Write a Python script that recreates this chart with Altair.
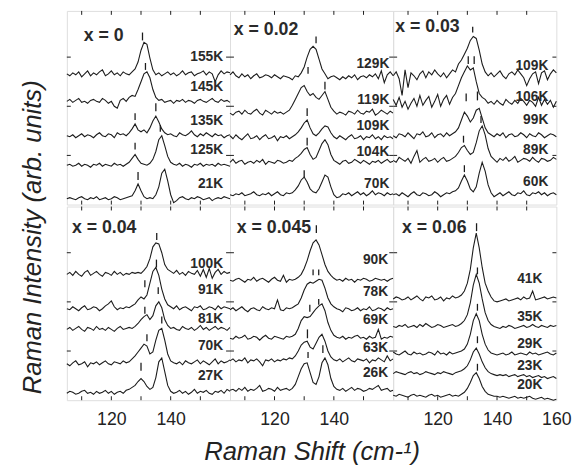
import altair as alt
import pandas as pd

FONT = "Liberation Sans"
INK = "#1c1c1c"
SHIFT0 = 105          # first sampled Raman shift (cm-1); spectra sampled every 1 cm-1
X_DOMAIN = [105, 160]
Y_DOMAIN = [0, 197]
W, H = 166, 197

x_ticks = [110, 120, 130, 140, 150]
y_ticks = [50, 100, 150]

# ---------------- panel x = 0 ----------------
x0_temps = ["155K", "145K", "135K", "125K", "21K"]
x0_offsets = [133, 105, 70, 40, 6]
x0_spectra = [
    [0,-2,1,-1,2,-3,0,3,-2,1,-1,2,4,-2,0,3,-1,1,-2,2,0,-1,2,5,12,24,32,30,16,4,-1,1,-2,0,2,-1,1,-2,0,3,-1,1,2,-2,0,1,3,-1,2,0,-8,-1,3,0,2,1],
    [0,2,-1,1,3,-1,0,-2,1,2,0,-1,3,1,-2,0,-5,-7,1,3,0,4,6,5,12,20,28,30,24,12,4,1,2,-1,0,1,-2,1,0,2,-1,1,0,-2,1,2,0,-1,1,3,0,-1,2,0,1,-1],
    [0,-1,1,-2,0,2,-1,1,0,-2,1,3,0,-1,2,1,-2,3,1,2,0,3,7,12,6,4,6,3,8,15,20,14,7,3,1,2,0,-1,3,1,0,2,5,1,-1,2,0,3,1,-1,2,0,1,-2,0,1],
    [0,1,-1,0,2,-1,1,0,-2,1,0,2,-1,1,0,-1,2,0,1,-1,1,3,7,11,6,2,1,0,2,6,14,26,30,20,9,3,1,0,2,-1,1,0,-2,1,0,2,-1,1,0,1,-1,2,0,1,0,-1],
    [0,1,0,-1,1,2,0,-1,1,0,2,-1,0,1,-1,0,2,1,-1,0,1,2,3,8,15,8,2,0,1,0,4,12,26,30,18,4,-4,-2,1,2,0,-1,1,0,2,1,-1,0,1,-2,0,1,0,2,1,0],
]
x0_label_x = 157.7
x0_label_y = [150, 120, 85, 55, 21]
x0_mark_shift = [130.5, 131.5, 128, 135, 128, 136.5, 129]
x0_mark_low = [167, 137, 86, 95, 56, 74, 25]
x0_mark_high = [175, 144, 93, 103, 63, 81, 33]

# ---------------- panel x = 0.02 ----------------
x02_temps = ["129K", "119K", "109K", "104K", "70K"]
x02_offsets = [130, 93, 68, 43, 10]
x02_spectra = [
    [2,5,1,-1,3,0,2,-2,1,3,-1,0,2,1,-1,2,0,-2,1,0,-1,-3,1,0,4,10,20,28,31,28,18,8,3,-2,0,1,-1,-3,0,-2,1,-1,2,-3,0,1,-1,2,0,3,-2,6,-6,2,5,1],
    [0,-2,1,2,-1,3,0,-1,2,4,0,-2,3,1,-1,2,0,1,-1,1,3,8,14,20,26,28,22,18,20,16,14,18,22,14,6,2,-1,1,0,-2,2,1,-1,3,0,-1,2,1,4,-2,0,3,1,-1,2,0],
    [2,-1,3,0,-2,1,4,-1,0,2,-2,1,3,-1,0,2,-3,1,0,2,-1,1,3,6,10,15,18,10,4,2,5,9,12,11,5,1,-1,2,0,-2,1,3,-1,0,2,-2,1,0,3,-1,1,-2,2,0,1,-1],
    [0,3,-1,1,2,-2,0,1,-1,2,0,3,-2,1,0,-1,2,1,-1,0,2,1,4,6,9,13,15,8,3,5,12,19,23,18,8,2,0,-2,1,2,-1,0,3,1,-1,2,0,-2,1,0,2,-1,1,3,0,1],
    [0,-1,1,0,2,-1,0,1,3,0,-1,1,0,2,-1,1,3,0,-1,2,1,2,5,9,15,18,13,6,3,2,6,13,20,18,8,0,-3,-2,1,0,2,-1,1,3,0,2,-1,1,4,0,2,1,-1,2,0,1],
]
x02_label_x = 158.7
x02_label_y = [143, 106, 80, 53, 21]
x02_mark_shift = [134, 131.3, 137, 131, 131, 130]
x02_mark_low = [164, 133, 117, 90, 60, 28]
x02_mark_high = [171, 140, 125, 98, 68, 35]

# ---------------- panel x = 0.03 ----------------
x03_temps = ["109K", "106K", "99K", "89K", "60K"]
x03_offsets = [131, 103, 70, 45, 10]
x03_spectra = [
    [0,4,-3,-20,6,-12,3,0,-4,2,5,-2,4,1,6,2,-1,3,-2,2,6,4,12,16,22,28,36,40,38,26,12,4,0,3,-1,2,5,0,-3,2,4,1,6,2,-2,-10,-3,2,4,-8,3,5,-4,2,6,3],
    [4,-2,6,-4,2,-6,0,5,-3,8,-2,3,7,-4,2,9,-3,4,8,-1,6,10,18,26,32,38,34,36,22,10,6,4,0,2,-1,3,0,-2,4,1,-1,3,0,5,2,-2,3,1,-3,6,-2,4,-1,3,-4,2],
    [0,-2,2,1,-1,3,0,-3,2,1,4,-1,0,3,-2,1,2,-1,3,0,2,4,8,16,24,20,14,18,26,28,18,8,3,1,-1,2,0,3,-2,1,2,-1,0,3,1,-2,2,0,-1,3,1,-2,0,2,1,-1],
    [0,-2,3,1,-1,2,-3,4,10,-2,1,3,-1,0,2,-2,1,3,-1,0,2,4,8,13,15,10,6,8,18,30,35,26,12,4,1,-2,2,0,3,-1,1,4,-2,0,2,1,-1,3,0,-2,2,1,-1,0,3,1],
    [0,1,-1,2,0,-2,1,3,0,-1,2,1,-1,0,3,1,-2,0,2,1,3,4,7,14,20,14,6,3,8,22,33,24,10,2,-2,0,2,-1,1,3,0,-1,2,1,4,0,-1,2,1,3,0,2,-1,1,2,0],
]
x03_label_x = 157.3
x03_label_y = [141, 109, 86, 55, 23]
x03_mark_shift = [131.8, 130.3, 132.3, 129.6, 133.4, 128.7, 134.6, 129]
x03_mark_low = [175, 143, 143, 105, 106, 63, 83, 33]
x03_mark_high = [181, 151, 151, 113, 115, 70, 90, 40]

# ---------------- panel x = 0.04 ----------------
x04_temps = ["100K", "91K", "81K", "70K", "27K"]
x04_offsets = [128, 93, 72, 37, 7]
x04_spectra = [
    [0,2,-1,3,0,-2,2,4,-1,1,3,0,-2,2,1,-1,3,0,2,-1,1,0,2,1,2,1,4,8,16,28,32,31,22,10,5,3,1,4,0,2,-1,3,1,0,4,-2,5,-3,6,-4,2,5,0,3,1,2],
    [0,-1,2,0,-2,1,3,-1,0,2,1,-2,0,3,5,8,2,-1,1,0,2,1,3,5,9,12,10,14,26,38,42,34,20,10,4,2,0,3,-1,1,2,0,-2,2,1,3,-1,0,2,1,-1,3,0,2,1,0],
    [0,2,-1,1,3,0,-2,2,1,-1,3,0,1,-1,2,0,-2,1,3,0,1,2,1,3,6,10,13,15,10,14,24,28,22,10,4,1,2,0,-1,3,1,0,2,-1,1,4,0,2,-1,1,3,0,2,1,-1,2],
    [0,-2,1,3,-1,0,2,-3,1,0,2,-1,1,3,0,-1,2,1,0,3,1,2,5,8,12,16,20,18,10,12,24,34,36,24,10,3,1,0,2,-1,3,1,0,2,4,0,3,1,-1,2,5,0,3,1,2,4],
    [0,2,1,-1,0,2,3,0,1,-1,2,0,1,3,0,2,-1,1,2,0,3,4,6,8,12,15,12,7,4,6,16,32,36,22,8,2,0,1,3,0,2,-1,1,4,0,2,1,3,0,-1,2,1,3,0,4,2],
]
x04_label_x = 157.7
x04_label_y = [138, 112, 83, 55, 25]
x04_mark_shift = [135.3, 131.3, 135.2, 131.3, 135.8, 132, 137, 130]
x04_mark_low = [163, 115, 135, 88, 108, 60, 78, 30]
x04_mark_high = [170, 122, 143, 95, 115, 67, 85, 38]

# ---------------- panel x = 0.045 ----------------
x045_temps = ["90K", "78K", "69K", "63K", "26K"]
x045_offsets = [122, 92, 63, 40, 10]
x045_spectra = [
    [0,-1,1,2,0,-2,1,0,3,-1,1,2,0,-2,1,3,0,-1,5,-2,1,0,1,3,6,12,20,30,38,41,36,26,16,9,5,2,0,1,-1,2,0,1,-2,1,0,2,1,-1,0,2,1,0,1,-1,1,2],
    [0,2,-1,1,3,0,-2,1,2,0,-1,3,1,0,2,1,10,0,-1,2,1,2,4,6,12,20,26,28,27,29,31,30,22,12,6,3,1,0,-2,2,1,-1,0,2,-1,1,0,3,-1,0,2,1,-1,2,0,1],
    [0,-1,2,0,1,3,-1,0,2,1,-2,1,3,0,-1,2,1,0,-1,2,1,2,4,10,18,22,21,22,26,30,33,35,28,16,8,3,1,0,2,-1,1,0,2,3,0,1,-1,2,0,1,9,-1,1,0,2,1],
    [0,2,-1,1,0,3,-2,1,0,2,-1,-5,1,0,2,-1,1,0,2,1,3,2,5,10,16,19,20,14,12,18,24,27,20,10,4,1,0,2,-1,1,3,0,-1,2,1,0,2,-2,1,0,3,1,-1,5,0,2],
    [0,1,-1,2,0,3,-1,1,0,2,5,-1,0,2,1,-1,3,0,1,2,0,2,6,14,22,27,28,18,8,6,14,28,33,26,12,4,1,0,2,-1,1,3,0,2,1,-1,0,2,1,3,5,0,1,2,-1,0],
]
x045_label_x = 158.3
x045_label_y = [143, 110, 82, 53, 28]
x045_mark_shift = [134.1, 133, 134.9, 131.9, 134.9, 131.1, 131.3, 136.3]
x045_mark_low = [170, 127, 127, 90, 97, 63, 43, 48]
x045_mark_high = [178, 133, 133, 97, 103, 72, 49, 56]

# ---------------- panel x = 0.06 ----------------
x06_temps = ["41K", "35K", "29K", "23K", "20K"]
x06_offsets = [103, 75, 47, 27, 4]
x06_spectra = [
    [0,2,1,-1,0,2,-1,1,3,0,-2,2,1,3,-1,0,2,-2,1,0,3,1,2,4,8,16,30,52,67,52,32,16,8,2,-2,-3,-2,-1,0,-2,-1,0,1,-1,2,0,1,8,-1,0,1,2,0,1,2,1],
    [0,-1,1,0,2,-1,0,1,-1,2,0,3,1,-1,0,2,1,-1,0,1,2,0,1,3,6,12,24,42,53,44,28,14,6,2,0,-1,-2,0,-1,1,0,-2,-1,0,1,-1,0,2,0,-1,1,0,-1,1,0,1],
    [2,0,-1,1,3,0,-1,2,0,1,-1,0,2,1,-1,3,0,1,-1,2,0,1,2,3,5,10,20,34,41,34,20,10,4,1,0,-1,0,1,-1,0,2,-1,0,1,0,-1,2,0,1,-1,0,1,2,0,-1,1],
    [0,2,1,0,-1,1,2,0,1,-1,0,2,1,0,-1,1,0,2,1,0,-1,1,2,3,5,8,14,22,26,20,12,6,2,0,-1,-2,-1,-2,-1,-3,-2,-1,-3,-2,-1,-3,-2,-4,-3,-2,-4,-3,-5,-4,-3,-5],
    [1,0,2,1,0,-1,1,2,0,1,0,-1,1,2,0,1,-1,0,1,2,0,1,0,2,4,8,14,21,24,18,10,5,2,1,0,0,-1,0,-1,-2,-1,0,-2,-1,-2,-1,0,-2,-3,-2,-1,-3,-2,-3,-4,-3],
]
x06_label_x = 155.3
x06_label_y = [123, 85, 57, 35, 15]
x06_mark_shift = [133.1, 133.4, 133.4, 133.4, 133.4]
x06_mark_low = [172, 128, 91, 58, 30]
x06_mark_high = [180, 135, 98, 65, 37]

panel_names = ["x = 0", "x = 0.02", "x = 0.03", "x = 0.04", "x = 0.045", "x = 0.06"]
panel_name_x = [110.7, 106.3, 105.7, 106.7, 107.3, 108.0]
panel_name_y = [171, 178, 181, 175, 175, 175]

panels = [
    (x0_temps, x0_offsets, x0_spectra, x0_label_x, x0_label_y, x0_mark_shift, x0_mark_low, x0_mark_high),
    (x02_temps, x02_offsets, x02_spectra, x02_label_x, x02_label_y, x02_mark_shift, x02_mark_low, x02_mark_high),
    (x03_temps, x03_offsets, x03_spectra, x03_label_x, x03_label_y, x03_mark_shift, x03_mark_low, x03_mark_high),
    (x04_temps, x04_offsets, x04_spectra, x04_label_x, x04_label_y, x04_mark_shift, x04_mark_low, x04_mark_high),
    (x045_temps, x045_offsets, x045_spectra, x045_label_x, x045_label_y, x045_mark_shift, x045_mark_low, x045_mark_high),
    (x06_temps, x06_offsets, x06_spectra, x06_label_x, x06_label_y, x06_mark_shift, x06_mark_low, x06_mark_high),
]

xs = alt.Scale(domain=X_DOMAIN, nice=False, zero=False)
ys = alt.Scale(domain=Y_DOMAIN, nice=False, zero=False)
xticks_df = pd.DataFrame({"tick": x_ticks})
yticks_df = pd.DataFrame({"ytick": y_ticks})


def make_panel(idx):
    temps, offsets, spectra, lab_x, lab_y, m_shift, m_low, m_high = panels[idx]
    row, col = divmod(idx, 3)

    rows = []
    for t, off, spec in zip(temps, offsets, spectra):
        for k, v in enumerate(spec):
            rows.append({"temp": t, "shift": SHIFT0 + k, "intensity": off + v})
    spec_df = pd.DataFrame(rows)
    lab_df = pd.DataFrame({"temp": temps, "lx": [lab_x] * len(temps), "ly": lab_y})
    mark_df = pd.DataFrame({"shift": m_shift, "low": m_low, "high": m_high})
    name_df = pd.DataFrame({"name": [panel_names[idx]], "nx": [panel_name_x[idx]],
                            "ny": [panel_name_y[idx]]})

    xtitle = "Raman Shift (cm-¹)" if (row == 1 and col == 1) else None
    if row == 1:
        xaxis = alt.Axis(values=[120, 140, 160] if col == 2 else [120, 140],
                         domain=False, ticks=False, grid=False, labelFlush=False,
                         labelFont=FONT, labelFontSize=18, labelColor="#222",
                         labelPadding=11, titleFont=FONT, titleFontSize=26,
                         titleFontStyle="italic", titleFontWeight="normal",
                         titleColor="#222", titlePadding=10)
    else:
        xaxis = None

    def X(field):
        return alt.X(field, type="quantitative", scale=xs, axis=xaxis, title=xtitle)

    def Y(field):
        return alt.Y(field, type="quantitative", scale=ys, axis=None)

    lines = alt.Chart(spec_df).mark_line(color=INK, strokeWidth=1.1).encode(
        x=X("shift"), y=Y("intensity"), detail="temp:N")
    dashes = alt.Chart(mark_df).mark_rule(color=INK, strokeWidth=1.3).encode(
        x=X("shift"), y=Y("low"), y2="high")
    labels = alt.Chart(lab_df).mark_text(
        align="right", baseline="middle", font=FONT, fontSize=14,
        fontWeight="bold", color="#2a2a2a").encode(x=X("lx"), y=Y("ly"), text="temp")
    name = alt.Chart(name_df).mark_text(
        align="left", baseline="middle", font=FONT, fontSize=18,
        fontWeight="bold", color="#2a2a2a").encode(x=X("nx"), y=Y("ny"), text="name")
    bt = alt.Chart(xticks_df).mark_rule(color=INK).encode(
        x=X("tick"), y=alt.value(H), y2=alt.value(H - 4))
    tt = alt.Chart(xticks_df).mark_rule(color=INK).encode(
        x=X("tick"), y=alt.value(0), y2=alt.value(4))
    lt = alt.Chart(yticks_df).mark_rule(color=INK).encode(
        y=Y("ytick"), x=alt.value(0), x2=alt.value(4))
    rt = alt.Chart(yticks_df).mark_rule(color=INK).encode(
        y=Y("ytick"), x=alt.value(W - 4), x2=alt.value(W))

    return alt.layer(lines, dashes, labels, name, bt, tt, lt, rt).properties(width=W, height=H)


top = alt.hconcat(*[make_panel(i) for i in range(3)], spacing=0, bounds="flush")
bottom = alt.hconcat(*[make_panel(i) for i in range(3, 6)], spacing=0, bounds="flush")

chart = alt.vconcat(top, bottom, spacing=0).properties(
    title=alt.TitleParams(text="Raman Intensity (arb. units)", orient="left",
                          anchor="middle", font=FONT, fontSize=26,
                          fontStyle="italic", fontWeight="normal",
                          color="#222", offset=19),
    padding={"left": 20, "top": 6, "right": 5, "bottom": 5},
).configure_view(stroke="#111", strokeWidth=1.3).configure(background="white")

chart.save("out.html", embed_options={"renderer": "svg", "actions": False})
